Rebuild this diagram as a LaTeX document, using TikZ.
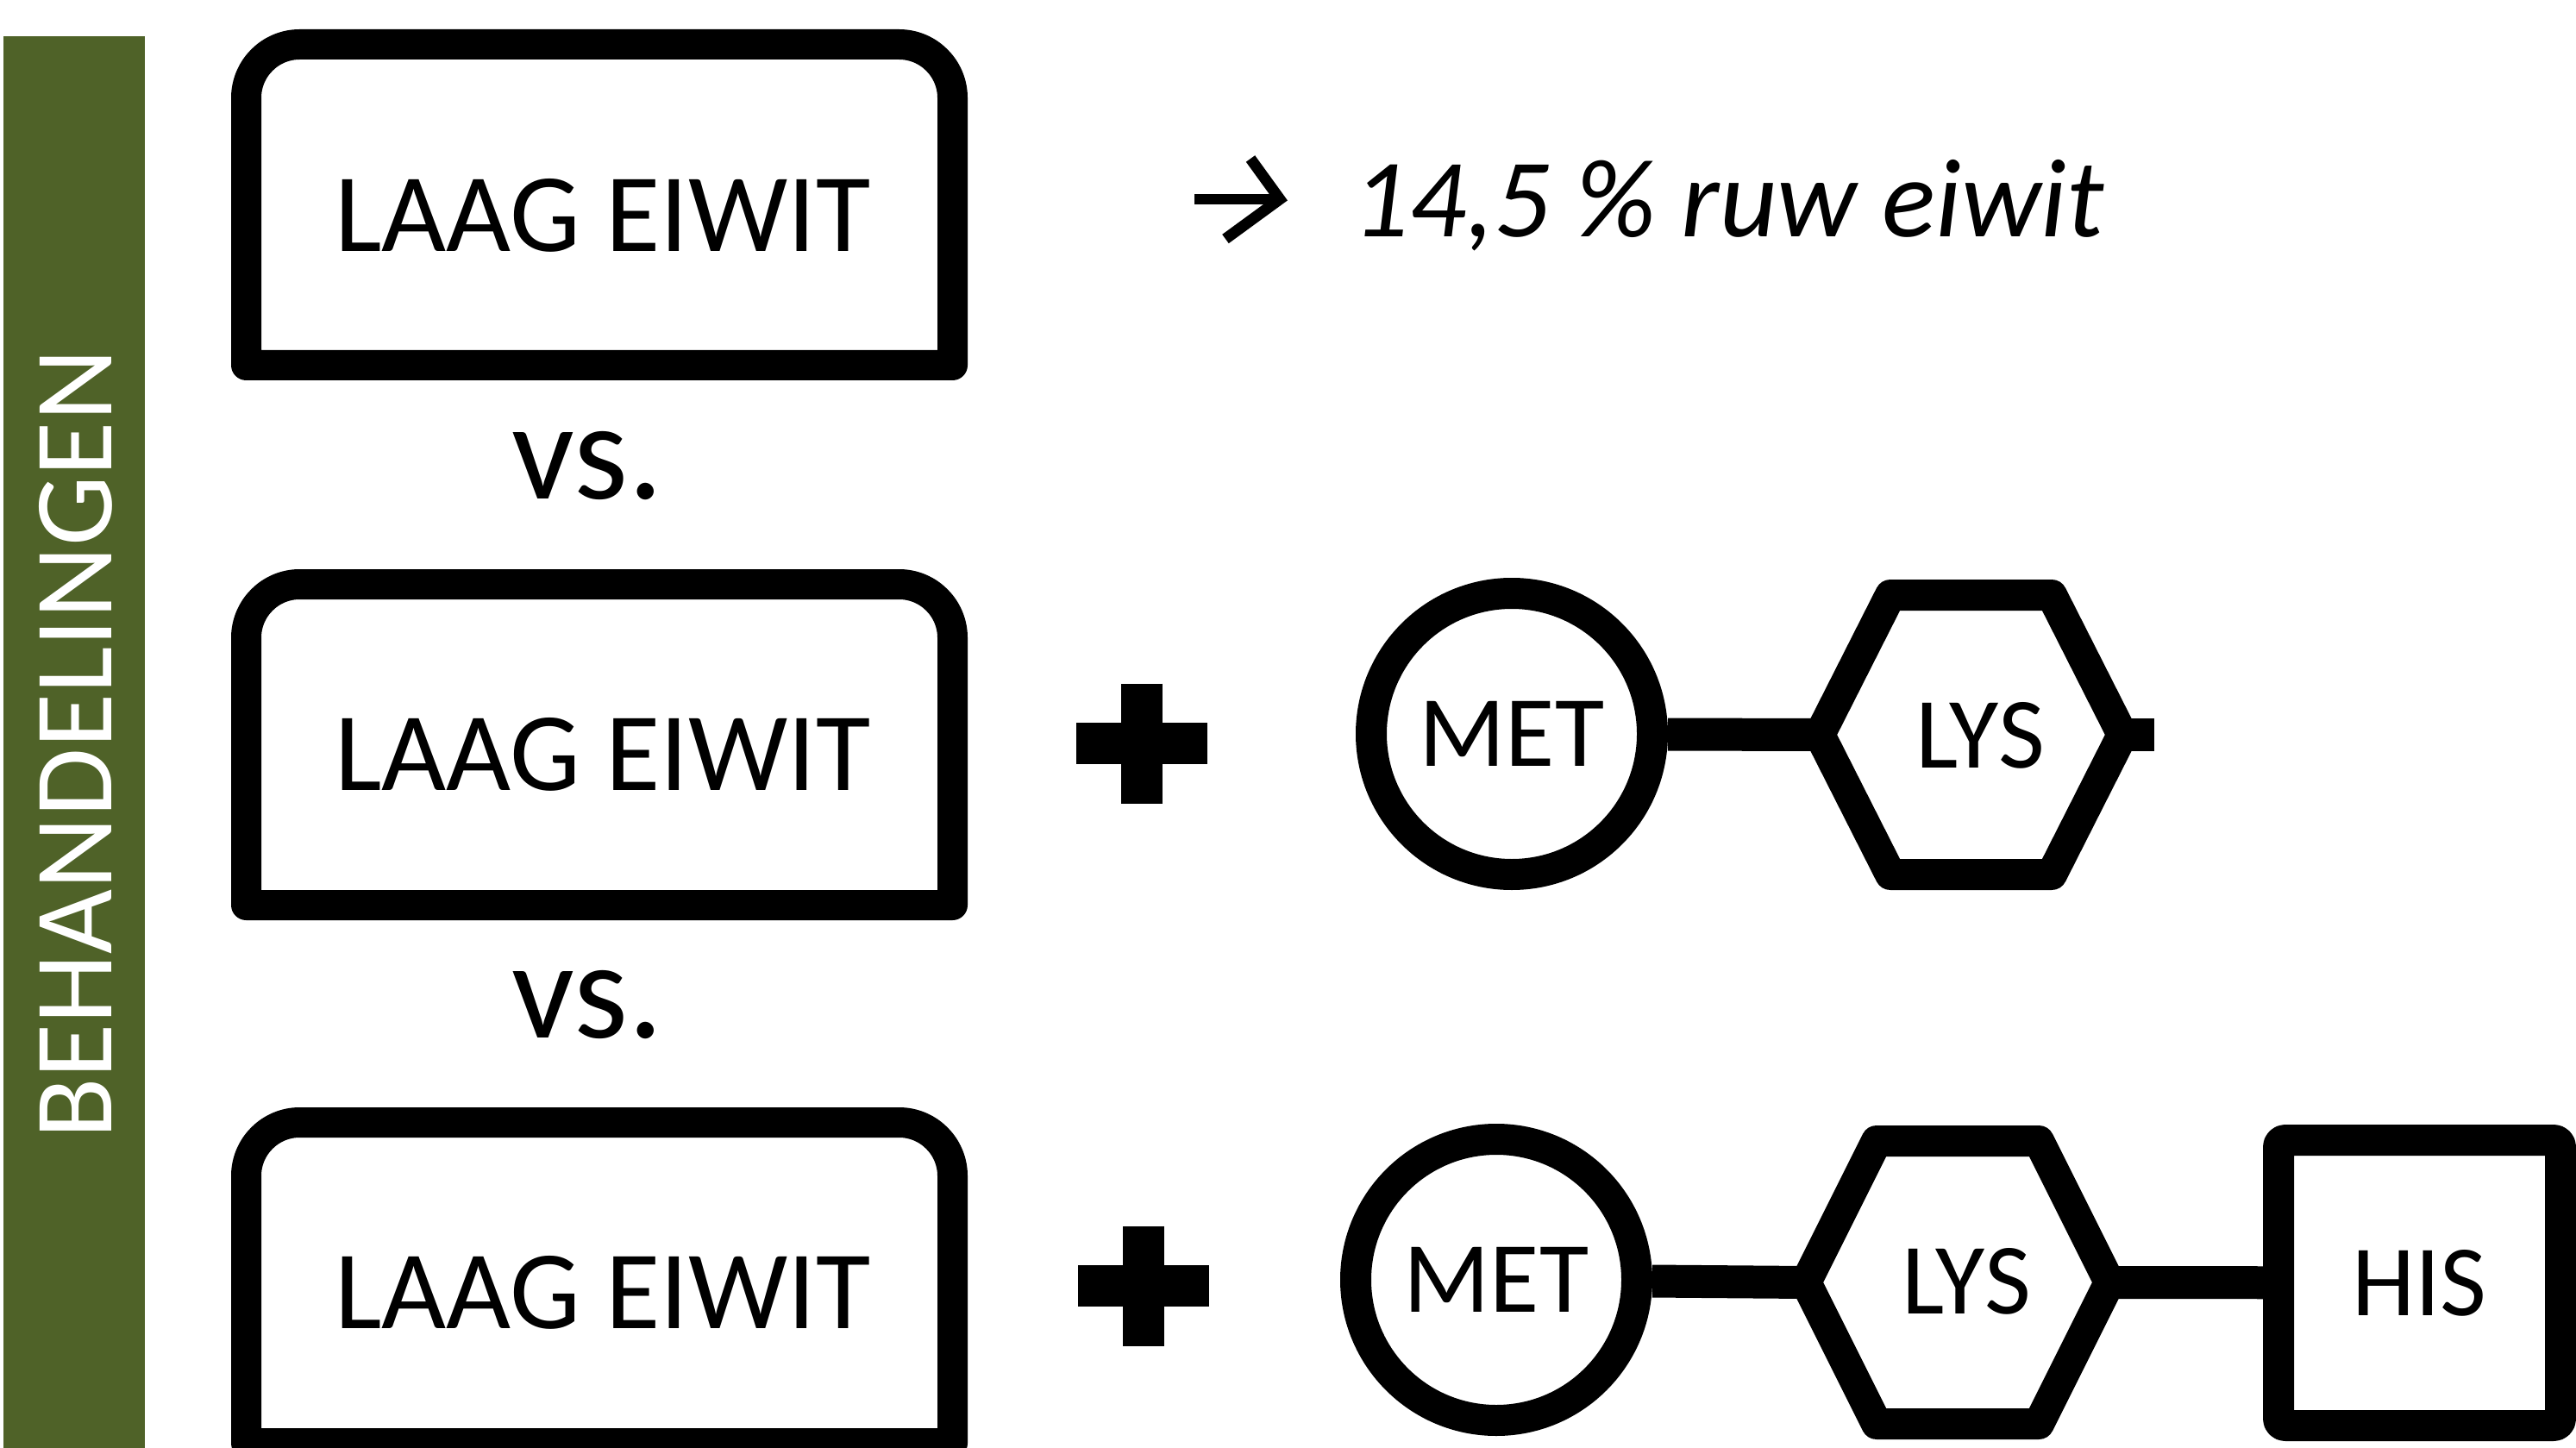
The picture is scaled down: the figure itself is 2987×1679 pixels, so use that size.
\documentclass[tikz,border=0pt]{standalone}
\usepackage{fontspec}
\setmainfont{Carlito}
\usepackage{tikz}
\definecolor{olivebar}{RGB}{79,98,40}

\begin{document}
\begin{tikzpicture}[x=0.25pt,y=0.25pt,yscale=-1,xscale=1,
  boxline/.style={line width=8.75pt, line join=round},
  shp/.style={line width=9pt, line join=round},
  link/.style={line width=9.5pt},
  plusbar/.style={line width=12pt},
  arrline/.style={line width=3.2pt},
  boxtxt/.style={inner sep=0pt, font=\fontsize{32.4}{39}\selectfont},
  vstxt/.style={inner sep=0pt, font=\fontsize{40.3}{48}\selectfont},
  aminotxt/.style={inner sep=0pt, font=\fontsize{29.3}{35}\selectfont},
  circ/.style={circle, draw, shp, fill=white, minimum size=81.5pt, aminotxt},
  sqr/.style={rectangle, draw, shp, fill=white, rounded corners=2pt, minimum width=81.75pt, minimum height=82.75pt, aminotxt}]
\path[use as bounding box] (0,0) rectangle (2987,1679);
\clip (0,0) rectangle (2987,1679);

%Shape: Rectangle [left bar]
\fill[olivebar] (4,42) rectangle (168,1690);
% Text Node
\draw (88,863) node (beh) [boxtxt, text=white, rotate=90] {BEHANDELINGEN};

%Shape: Box [row 1]
\draw[boxline] (285.5,423.5) -- (285.5,113.5) .. controls (285.5,79.3) and (313.3,51.5) .. (347.5,51.5) -- (1042.5,51.5) .. controls (1076.7,51.5) and (1104.5,79.3) .. (1104.5,113.5) -- (1104.5,423.5) -- cycle;
%Shape: Box [row 2]
\draw[boxline] (285.5,1049.5) -- (285.5,739.5) .. controls (285.5,705.3) and (313.3,677.5) .. (347.5,677.5) -- (1042.5,677.5) .. controls (1076.7,677.5) and (1104.5,705.3) .. (1104.5,739.5) -- (1104.5,1049.5) -- cycle;
%Shape: Box [row 3]
\draw[boxline] (285.5,1673.5) -- (285.5,1363.5) .. controls (285.5,1329.3) and (313.3,1301.5) .. (347.5,1301.5) -- (1042.5,1301.5) .. controls (1076.7,1301.5) and (1104.5,1329.3) .. (1104.5,1363.5) -- (1104.5,1673.5) -- cycle;

% Text Node
\draw (699,250) node (laag1) [boxtxt] {LAAG EIWIT};
% Text Node
\draw (699,875) node (laag2) [boxtxt] {LAAG EIWIT};
% Text Node
\draw (699,1499) node (laag3) [boxtxt] {LAAG EIWIT};
% Text Node
\draw (681,540) node (vs1) [vstxt] {vs.};
% Text Node
\draw (681,1165) node (vs2) [vstxt] {vs.};

%Straight Lines [arrow]
\draw[arrline] (1385,231) -- (1478,231);
\draw[arrline] (1450,184) -- (1484,231) -- (1421,277);
% Text Node
\draw (1568,275) node (ruw) [boxtxt, anchor=base west] {\itshape 14,5 \% ruw eiwit};

%Shape: Plus [row 2]
\coordinate (plus2) at (1324,862);
\draw[plusbar] (plus2) ++(-76,0) -- ++(152,0) (plus2) ++(0,-69.5) -- ++(0,139);
%Shape: Plus [row 3]
\coordinate (plus3) at (1326,1491);
\draw[plusbar] (plus3) ++(-76,0) -- ++(152,0) (plus3) ++(0,-69.5) -- ++(0,139);

%Shape: Circle [row 2]
\draw (1753,851) node (met2) [circ] {MET};
%Shape: Hexagon [row 2]
\draw[shp] (2110,852) -- (2192,690) -- (2379,690) -- (2461,852) -- (2379,1014) -- (2192,1014) -- cycle;
\coordinate (lys2w) at (2110,852);
\coordinate (lys2e) at (2461,852);
\coordinate (cut2) at (2498,852);
% Text Node
\draw (2296,853) node (lys2) [aminotxt] {LYS};
%Straight Lines
\draw[link] (met2) -- (lys2w);
\draw[link] (lys2e) -- (cut2);

%Shape: Circle [row 3]
\draw (1735,1484) node (met3) [circ] {MET};
%Shape: Hexagon [row 3]
\draw[shp] (2094,1487) -- (2176,1323) -- (2364,1323) -- (2446,1487) -- (2364,1651) -- (2176,1651) -- cycle;
\coordinate (lys3w) at (2094,1487);
\coordinate (lys3e) at (2446,1487);
% Text Node
\draw (2280,1486) node (lys3) [aminotxt] {LYS};
%Shape: Square [row 3]
\draw (2805.5,1487.5) node (his3) [sqr] {HIS};
%Straight Lines
\draw[link] (met3) -- (lys3w);
\draw[link] (lys3e) -- (his3);

\end{tikzpicture}
\end{document}
